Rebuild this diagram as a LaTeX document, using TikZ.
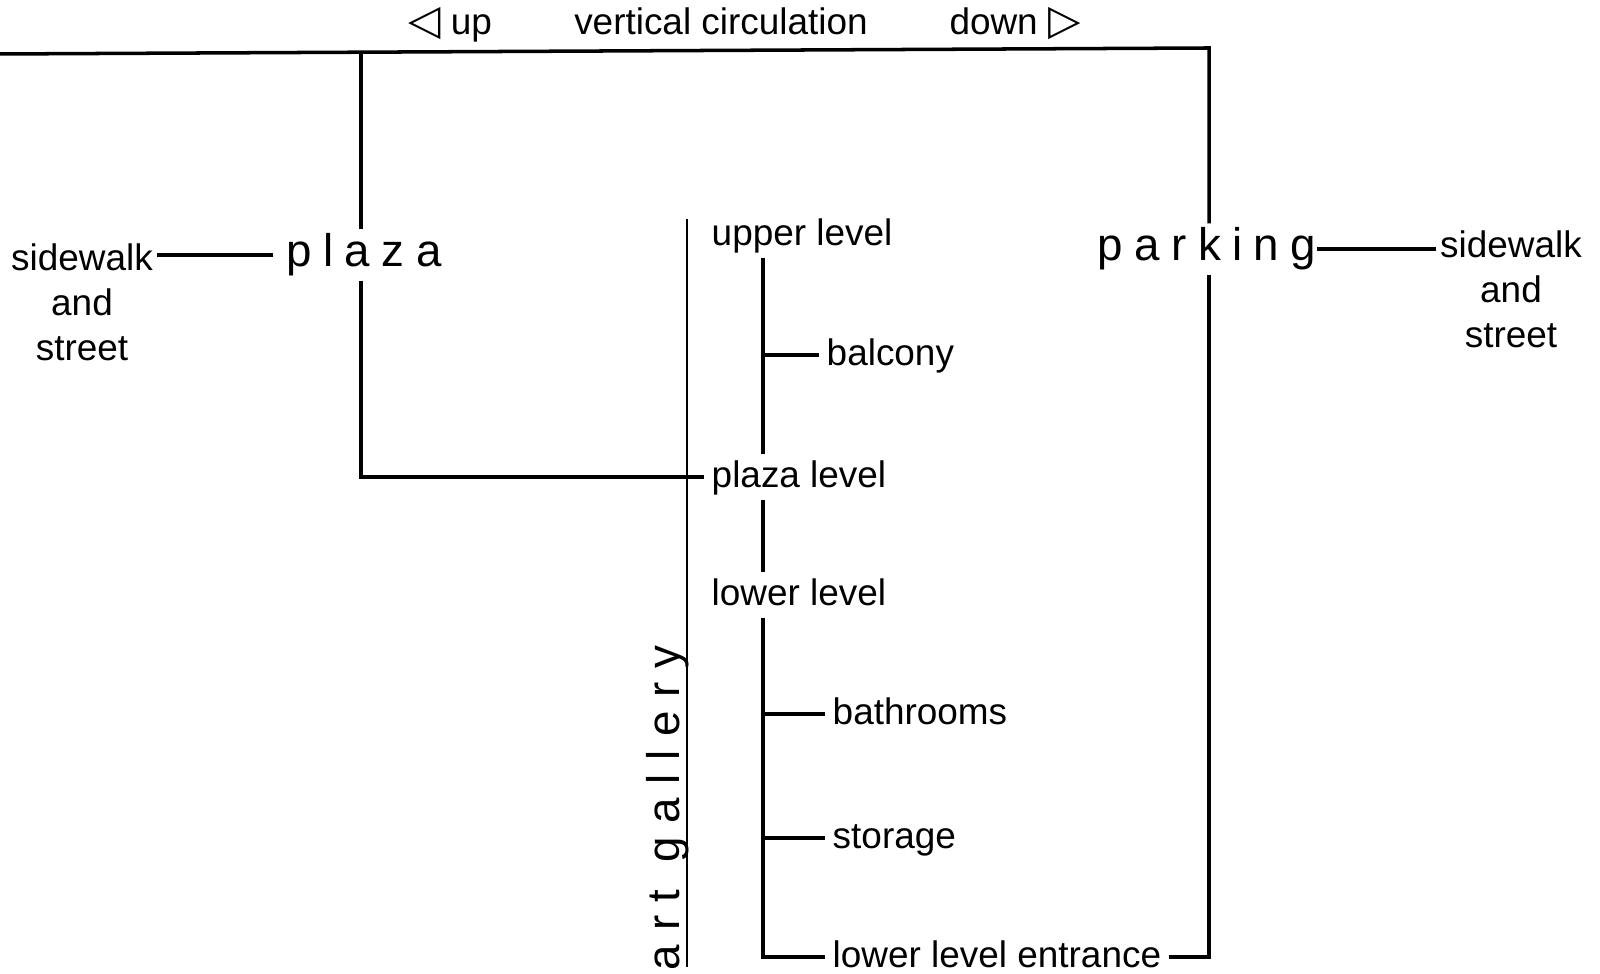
\documentclass[tikz,border=0pt]{standalone}
\usepackage{fontspec}
\setmainfont{Liberation Sans}
\newfontfamily\symfont{DejaVu Sans}
\newfontfamily\widefont[LetterSpace=25]{Liberation Sans}
\newfontfamily\widerfont[LetterSpace=30]{Liberation Sans}

\begin{document}
\begin{tikzpicture}[x=0.01cm, y=-0.01cm,
        link/.style={line width=1pt},
        lbl/.style={inner xsep=2pt, inner ysep=1pt, text height=8.5pt, text depth=2.3pt,
            font=\fontsize{10.5}{12.8}\selectfont},
        side/.style={align=center, inner sep=1pt, font=\fontsize{10.5}{12.8}\selectfont},
        word/.style={inner xsep=3.5pt, inner ysep=1pt, font=\widefont\fontsize{13}{15}\selectfont}]
        \useasboundingbox (0,0) rectangle (1600,974);

        % vertical circulation
        \node[lbl] (up) at (450,24) {{\symfont\fontsize{12}{12}\selectfont ◁}\ up};
        \node[lbl] (vcirc) at (721,24) {vertical circulation};
        \node[lbl] (down) at (1015,24) {down\ {\symfont\fontsize{12}{12}\selectfont ▷}};

        \node[word] (plaza) at (364,255) {plaza};
        \node[word, inner xsep=0pt] (parking) at (1207,249) {parking};
        \node[side] (swl) at (82,302) {sidewalk\\and\\street};
        \node[side] (swr) at (1511,289) {sidewalk\\and\\street};

        % art gallery levels
        \node[word, font=\widerfont\fontsize{13}{15}\selectfont, rotate=90, anchor=base] (gallery) at (679,808) {art gallery};
        \node[lbl, anchor=west] (upper) at (704,235) {upper level};
        \node[lbl, anchor=west] (balcony) at (819,355) {balcony};
        \node[lbl, anchor=west] (plazalvl) at (704,477) {plaza level};
        \node[lbl, anchor=west] (lowerlvl) at (704,595) {lower level};
        \node[lbl, anchor=west] (bath) at (825,714) {bathrooms};
        \node[lbl, anchor=west] (storage) at (825,838) {storage};
        \node[lbl, anchor=west] (entrance) at (825,957) {lower level entrance};

        \coordinate (galtop) at (687,219);
        \coordinate (galbot) at (687,967);
        \draw[line width=0.6pt] (galtop) -- (galbot);

        \coordinate (spine) at (763,0);
        \draw[link] (spine |- upper.south) -- (spine |- plazalvl.north);
        \draw[link] (spine |- balcony.west) -- (balcony.west);
        \draw[link] (spine |- plazalvl.south) -- (spine |- lowerlvl.north);
        \draw[link] (spine |- lowerlvl.south) |- (entrance.west);
        \foreach \n in {bath, storage}
            \draw[link] (spine |- \n.west) -- (\n.west);

        % plaza and parking
        \coordinate (topleft) at (0,54);
        \coordinate (topright) at (1209,48);
        \coordinate (plazatop) at (361,52);
        \draw[link] (topleft) -- (topright) -- (topright |- parking.north);
        \draw[link] (plazatop) -- (plazatop |- plaza.north);
        \draw[link] (plazatop |- plaza.south) |- (plazalvl.west);
        \draw[link] (entrance.east) -| (topright |- parking.south);
        \draw[link] (plaza.west) -- (plaza.west -| swl.east);
        \draw[link] (parking.east) -- (parking.east -| swr.west);
    \end{tikzpicture}
\end{document}
